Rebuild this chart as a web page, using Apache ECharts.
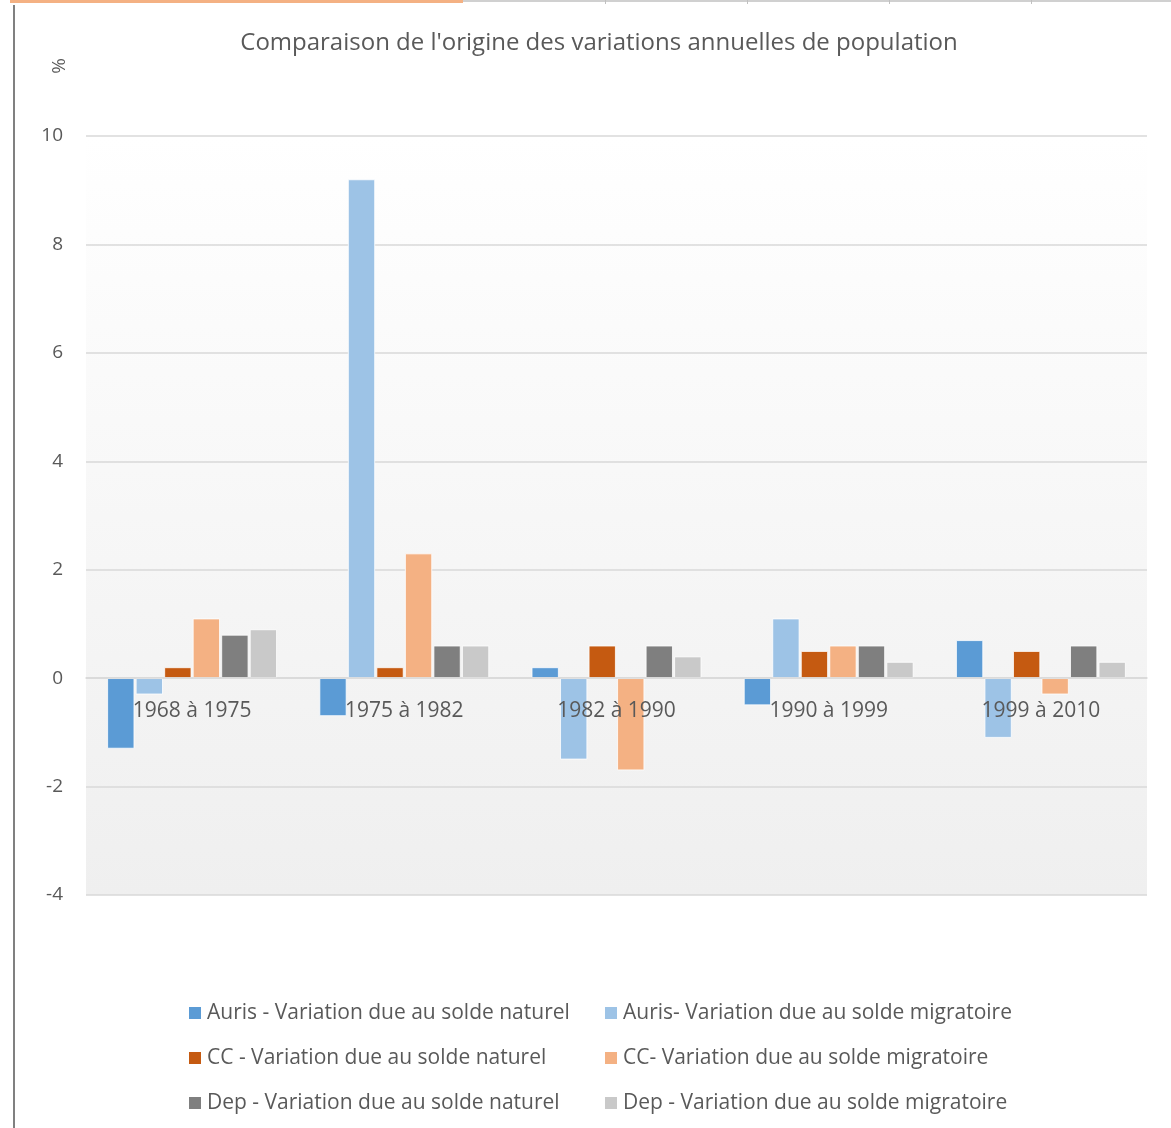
<!DOCTYPE html>
<html lang="fr">
<head>
    <meta charset="UTF-8">
    <title>Comparaison de l'origine des variations annuelles de population</title>
    <script type="text/javascript" src="https://cdn.jsdelivr.net/npm/echarts@6/dist/echarts.min.js"></script>
    <style>
        html, body { margin: 0; padding: 0; background: #fff; }
        #main { width: 1171px; height: 1128px; }
    </style>
</head>
<body>
    <div id="main"></div>
</body>

<script type="text/javascript">
    // periodes
    var periodes = ['1968 à 1975', '1975 à 1982', '1982 à 1990', '1990 à 1999', '1999 à 2010'];

    // valeurs (%)
    var aurisNaturel    = [-1.3, -0.7, 0.2, -0.5, 0.7];
    var aurisMigratoire = [-0.3, 9.2, -1.5, 1.1, -1.1];
    var ccNaturel       = [0.2, 0.2, 0.6, 0.5, 0.5];
    var ccMigratoire    = [1.1, 2.3, -1.7, 0.6, -0.3];
    var depNaturel      = [0.8, 0.6, 0.6, 0.6, 0.6];
    var depMigratoire   = [0.9, 0.6, 0.4, 0.3, 0.3];

    var yTicks = [-4, -2, 0, 2, 4, 6, 8, 10];

    var noms = [
        'Auris - Variation due au solde naturel',
        'Auris- Variation due au solde migratoire',
        'CC - Variation due au solde naturel',
        'CC- Variation due au solde migratoire',
        'Dep - Variation due au solde naturel',
        'Dep - Variation due au solde migratoire'
    ];
    var couleurs = ['#5b9bd5', '#9dc3e6', '#c55a11', '#f4b183', '#7f7f7f', '#c9c9c9'];
    var donnees = [aurisNaturel, aurisMigratoire, ccNaturel, ccMigratoire, depNaturel, depMigratoire];

    var police = '"Open Sans", sans-serif';
    var gris = '#595959';

    var series = [];
    for (var i = 0; i < noms.length; i++) {
        series.push({
            name: noms[i],
            type: 'bar',
            data: donnees[i],
            barGap: '5%',
            barCategoryGap: '20%',
            itemStyle: { color: couleurs[i], borderColor: '#ffffff', borderWidth: 0.8 },
            emphasis: { disabled: true }
        });
    }

    var legendeBase = {
        orient: 'vertical',
        padding: 0,
        itemWidth: 14,
        itemHeight: 14,
        itemGap: 23,
        icon: 'rect',
        selectedMode: false,
        textStyle: { color: gris, fontSize: 21, fontFamily: police, lineHeight: 22 }
    };

    // position du zero : les libelles de categorie sont colles a l'axe 0
    var gridTop = 136, gridBottom = 233, hauteur = 1128;
    var hauteurGrille = hauteur - gridTop - gridBottom;
    var decalage = -hauteurGrille * (0 - yTicks[0]) / (yTicks[yTicks.length - 1] - yTicks[0]);

    var myChart = echarts.init(document.getElementById('main'));

    var option = {
        backgroundColor: '#ffffff',
        animation: false,
        color: couleurs,
        title: {
            text: "Comparaison de l'origine des variations annuelles de population",
            left: 594,
            textAlign: 'center',
            top: 26,
            textStyle: { color: gris, fontSize: 24, fontWeight: 'normal', fontFamily: police }
        },
        grid: {
            left: 86,
            right: 24,
            top: gridTop,
            bottom: gridBottom,
            show: true,
            borderWidth: 0,
            backgroundColor: {
                type: 'linear', x: 0, y: 0, x2: 0, y2: 1,
                colorStops: [
                    { offset: 0, color: '#ffffff' },
                    { offset: 1, color: '#efefef' }
                ]
            }
        },
        legend: [
            Object.assign({}, legendeBase, { left: 187, top: 1002, data: [noms[0], noms[2], noms[4]] }),
            Object.assign({}, legendeBase, { left: 603, top: 1002, data: [noms[1], noms[3], noms[5]] })
        ],
        xAxis: {
            type: 'category',
            data: periodes,
            offset: decalage,
            z: 5,
            axisLine: { onZero: false, lineStyle: { color: '#d9d9d9', width: 1.5 } },
            axisTick: { show: false },
            axisLabel: { color: gris, fontSize: 21, fontFamily: police, margin: 22 }
        },
        yAxis: {
            type: 'value',
            min: yTicks[0],
            max: yTicks[yTicks.length - 1],
            interval: 2,
            axisLine: { show: false },
            axisTick: { show: false },
            axisLabel: { color: gris, fontSize: 19, fontFamily: police, margin: 23 },
            splitLine: { lineStyle: { color: '#d9d9d9', width: 1.5 } }
        },
        graphic: [
            { type: 'rect', shape: { x: 10, y: 0, width: 453, height: 3 }, style: { fill: '#f4b183' }, silent: true },
            { type: 'rect', shape: { x: 463, y: 0, width: 708, height: 2 }, style: { fill: '#d0d0d0' }, silent: true },
            { type: 'rect', shape: { x: 605, y: 0, width: 1, height: 4 }, style: { fill: '#c0c0c0' }, silent: true },
            { type: 'rect', shape: { x: 747, y: 0, width: 1, height: 4 }, style: { fill: '#c0c0c0' }, silent: true },
            { type: 'rect', shape: { x: 889, y: 0, width: 1, height: 4 }, style: { fill: '#c0c0c0' }, silent: true },
            { type: 'rect', shape: { x: 1031, y: 0, width: 1, height: 4 }, style: { fill: '#c0c0c0' }, silent: true },
            { type: 'rect', shape: { x: 13, y: 5, width: 2, height: 1123 }, style: { fill: '#808080' }, silent: true },
            {
                type: 'text',
                x: 60, y: 66,
                rotation: Math.PI / 2,
                style: {
                    text: '%', fill: gris, fontSize: 19, fontFamily: police,
                    textAlign: 'center', textVerticalAlign: 'middle'
                },
                silent: true
            }
        ],
        series: series
    };

    myChart.setOption(option);
</script>
</html>
